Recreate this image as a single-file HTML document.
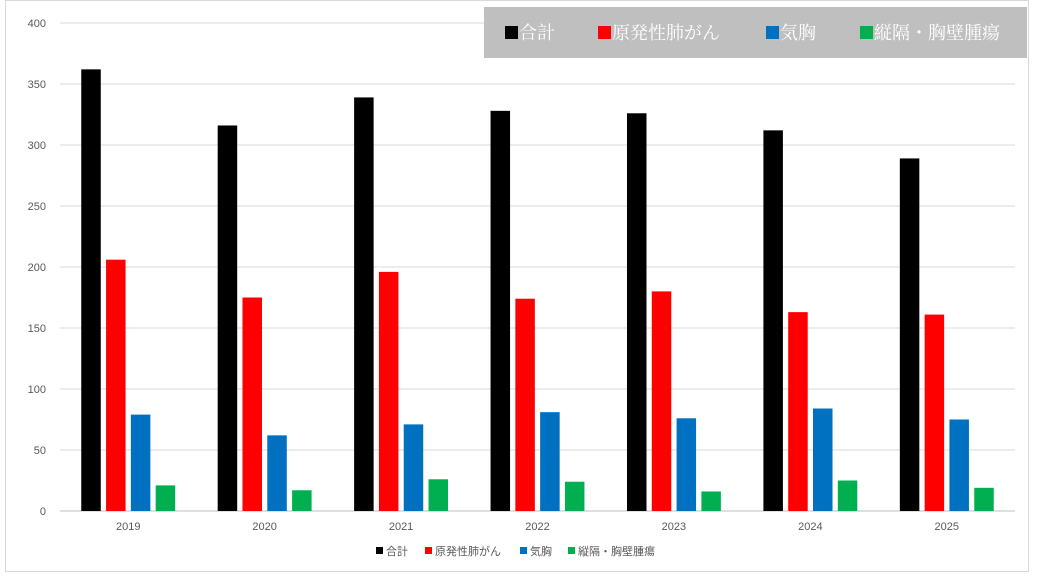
<!DOCTYPE html>
<html><head><meta charset="utf-8"><style>
body{margin:0;background:#fff;font-family:"Liberation Sans","Noto Sans CJK JP",sans-serif}
svg{display:block}
</style></head><body>
<svg id="chart" width="1037" height="580">
<rect x="5.5" y="0.5" width="1023" height="571" fill="#fff" stroke="#d9d9d9"/>
<g id="grid"></g><g id="bars"></g><g id="xlabels"></g>
<g>
<rect x="484" y="7" width="543" height="51" fill="#bfbfbf"/>
<g id="toplegend"></g>
</g>
<g id="bottomlegend"></g>
</svg>
<script>
const categories=["2019","2020","2021","2022","2023","2024","2025"];
const seriesNames=["合計","原発性肺がん","気胸","縦隔・胸壁腫瘍"];
const total=[362,316,339,328,326,312,289];
const lung=[206,175,196,174,180,163,161];
const pneumo=[79,62,71,81,76,84,75];
const medi=[21,17,26,24,16,25,19];
const yTicks=[0,50,100,150,200,250,300,350,400];
const series=[total,lung,pneumo,medi];
const colors=["#000000","#ff0000","#0070c0","#00b050"];
const NS="http://www.w3.org/2000/svg";
const x0=60,x1=1015,y0=511,y1=23,yMax=400;
const y=v=>y0-(v/yMax)*(y0-y1);
const catW=(x1-x0)/categories.length;
function mk(tag,attrs,parent){const e=document.createElementNS(NS,tag);for(const k in attrs)e.setAttribute(k,attrs[k]);parent.appendChild(e);return e;}
const grid=document.getElementById('grid');
yTicks.forEach(t=>{
  const l=mk('line',{x1:x0,x2:x1,y1:y(t),y2:y(t),stroke:t===0?'#bfbfbf':'#d9d9d9','stroke-width':1},grid);
  
  
  const tx=mk('text',{x:46,y:y(t)+4,'text-anchor':'end','font-size':11,fill:'#595959'},grid);
  tx.textContent=t;
  
  
});
const bars=document.getElementById('bars'),xl=document.getElementById('xlabels');
const bw=19.5,step=24.8;
categories.forEach((c,i)=>{
  const cx=x0+catW*(i+0.5);
  series.forEach((s,j)=>{
    const bx=cx-2*step+3+j*step-bw/2+ (step-bw)/2 + bw/2 - 0.5;
    const r=mk('rect',{x:cx+(j-1.5)*step-bw/2,y:y(s[i]),width:bw,height:y0-y(s[i]),fill:colors[j]},bars);
    
    
  });
  const t=mk('text',{x:cx,y:530,'text-anchor':'middle','font-size':11,fill:'#595959'},xl);
  t.textContent=c;
  
  
});
const tl=document.getElementById('toplegend');
const tpos=[505,598,766,860];
seriesNames.forEach((n,j)=>{
  const r=mk('rect',{x:tpos[j],y:26,width:13,height:13,fill:colors[j]},tl);
  
  
  const t=mk('text',{x:tpos[j]+14,y:39,'font-size':18,fill:'#fff','font-family':'"Liberation Serif","Noto Serif CJK SC",serif'},tl);
  t.textContent=n;
  
  
});
const bl=document.getElementById('bottomlegend');
const bpos=[376,425,520,568];
seriesNames.forEach((n,j)=>{
  const r=mk('rect',{x:bpos[j],y:547,width:7,height:7,fill:colors[j]},bl);
  
  
  const t=mk('text',{x:bpos[j]+10,y:555,'font-size':11,fill:'#595959'},bl);
  t.textContent=n;
  
  
});
</script>
</body></html>
